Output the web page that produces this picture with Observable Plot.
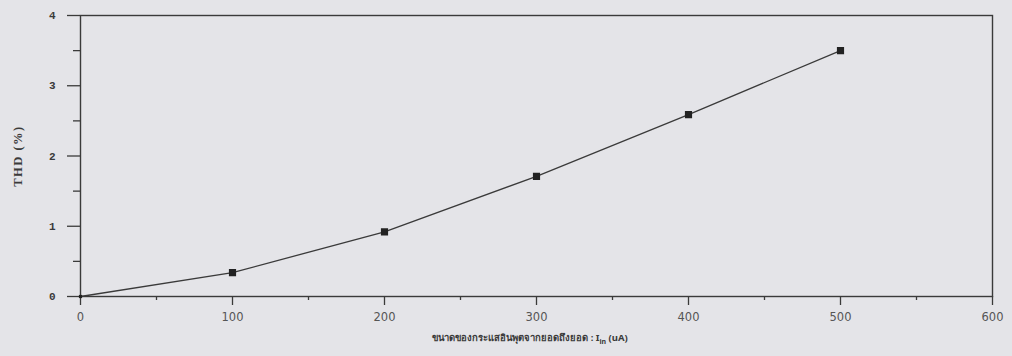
<!DOCTYPE html>
<html><head><meta charset="utf-8">
<script src="https://cdn.jsdelivr.net/npm/d3@7"></script>
<script src="https://cdn.jsdelivr.net/npm/@observablehq/plot@0.6"></script>
<style>
html,body{margin:0;padding:0;background:#e4e4e8;}
#chart svg{background:#e4e4e8;}
</style>
</head><body><div id="chart"></div>
<script>
const current = [0, 100, 200, 300, 400, 500];
const thd = [0.0, 0.34, 0.92, 1.71, 2.59, 3.50];
const xTicks = [0, 100, 200, 300, 400, 500, 600];
const xMinor = [50, 150, 250, 350, 450, 550];
const yTicks = [0, 1, 2, 3, 4];
const yMinor = [0.5, 1.5, 2.5, 3.5];
const yLabel = "THD (%)";
const xLabel = "ขนาดของกระแสอินพุตจากยอดถึงยอด : I";

const data = current.map((c, i) => ({c, v: thd[i]}));
const ink = "#3a3a3a";

const plot = Plot.plot({
  width: 1012, height: 356,
  marginLeft: 80, marginRight: 20, marginTop: 15, marginBottom: 60,
  style: {background: "#e4e4e8", color: ink},
  x: {domain: [0, 600]},
  y: {domain: [0, 4]},
  marks: [
    Plot.frame({stroke: ink, strokeWidth: 1.4}),
    Plot.axisY({ticks: yTicks, tickSize: 13, tickPadding: 12, tickFormat: d => d, label: null,
      fontFamily: "Liberation Mono, monospace", fontSize: 11, fontWeight: "bold", stroke: ink, strokeWidth: 1.3}),
    Plot.axisY({ticks: yMinor, tickSize: 7, tickFormat: () => "", label: null, stroke: ink, strokeWidth: 1.3}),
    Plot.axisX({ticks: xTicks, tickSize: 9, tickPadding: 7, tickFormat: d => d, label: null,
      fontFamily: "DejaVu Sans, sans-serif", fontSize: 11.5, fill: "#555", stroke: ink, strokeWidth: 1.3}),
    Plot.axisX({ticks: xMinor, tickSize: 4, tickFormat: () => "", label: null, stroke: ink, strokeWidth: 1.3}),
    Plot.line(data, {x: "c", y: "v", stroke: ink, strokeWidth: 1.3}),
    Plot.dot(data.slice(1), {x: "c", y: "v", symbol: "square", r: 3.2, fill: "#222", stroke: "#222"}),
    Plot.dot(data.slice(0, 1), {x: "c", y: "v", symbol: "square", r: 1.8, fill: "#222"})
  ]
});
document.getElementById("chart").appendChild(plot);

// axis titles
const svg = d3.select(plot);
svg.append("text").attr("transform", "translate(22,156) rotate(-90)")
  .attr("text-anchor", "middle").attr("font-family", "Liberation Serif, serif")
  .attr("font-size", 12.5).attr("font-weight", "bold").attr("letter-spacing", 1.5).attr("fill", ink).text(yLabel);
const xt = svg.append("text").attr("x", 530).attr("y", 341)
  .attr("text-anchor", "middle").attr("font-family", "Noto Sans, sans-serif")
  .attr("font-size", 9.5).attr("font-weight", "bold").attr("fill", ink);
xt.append("tspan").text(xLabel);
xt.append("tspan").attr("font-size", 7).attr("dy", 3).text("in");
xt.append("tspan").attr("dy", -3).text(" (uA)");
</script></body></html>
